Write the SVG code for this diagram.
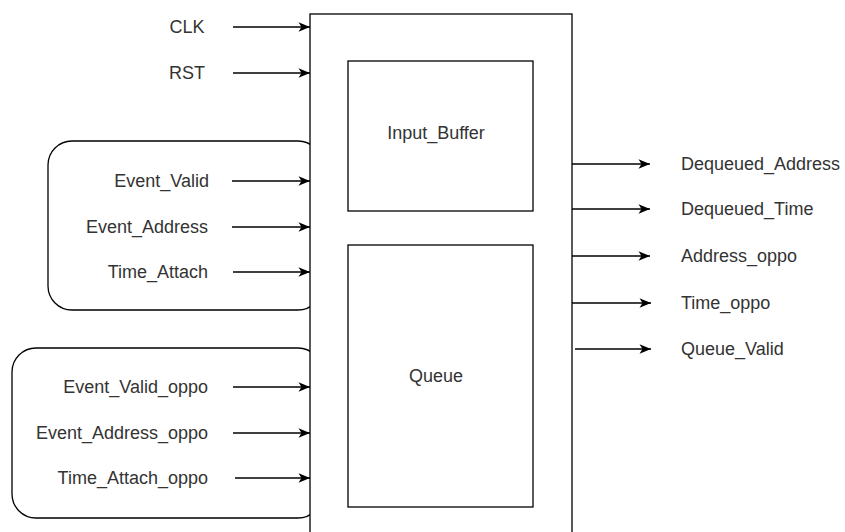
<svg xmlns="http://www.w3.org/2000/svg" width="845" height="532" viewBox="0 0 845 532">
<style>
.box{fill:#fff;stroke:#000;stroke-width:1.3}
.conn{stroke:#000;stroke-width:1.4;fill:none;marker-end:url(#arr)}
.lbl{font-family:"Liberation Sans",Arial,sans-serif;font-size:18px;fill:#333}
.r{text-anchor:end}
.m{text-anchor:middle}
</style>
<defs>
<marker id="arr" markerUnits="userSpaceOnUse" markerWidth="14" markerHeight="12" refX="12" refY="6" orient="auto">
<path d="M0.5,1.3 L12,6 L0.5,10.7 L3.5,6 Z" fill="#000"/>
</marker>
</defs>
<rect width="845" height="532" fill="#fff"/>
<g id="group1"><rect class="box" x="48" y="141" width="274" height="169" rx="24" ry="24"/></g>
<g id="group2"><rect class="box" x="12" y="348" width="310" height="170" rx="24" ry="24"/></g>
<g id="module"><rect class="box" x="310" y="14" width="262" height="540"/></g>
<g id="input_buffer"><rect class="box" x="348" y="61" width="185" height="150"/><text class="lbl m" x="436" y="139">Input_Buffer</text></g>
<g id="queue"><rect class="box" x="348" y="245" width="185" height="262"/><text class="lbl m" x="436" y="382">Queue</text></g>
<g id="connectors">
<line class="conn" x1="233" y1="27" x2="310" y2="27"/>
<line class="conn" x1="233" y1="73" x2="310" y2="73"/>
<line class="conn" x1="232" y1="181" x2="310" y2="181"/>
<line class="conn" x1="232" y1="227" x2="310" y2="227"/>
<line class="conn" x1="233" y1="272" x2="310" y2="272"/>
<line class="conn" x1="233" y1="387" x2="310" y2="387"/>
<line class="conn" x1="233" y1="433" x2="310" y2="433"/>
<line class="conn" x1="235" y1="478" x2="310" y2="478"/>
<line class="conn" x1="572" y1="164" x2="650" y2="164"/>
<line class="conn" x1="572" y1="209" x2="650" y2="209"/>
<line class="conn" x1="572" y1="256" x2="650" y2="256"/>
<line class="conn" x1="572" y1="303" x2="651" y2="303"/>
<line class="conn" x1="575" y1="349" x2="651" y2="349"/>
</g>
<g id="labels_in">
<text class="lbl m" x="187" y="33">CLK</text>
<text class="lbl m" x="187" y="79">RST</text>
<text class="lbl r" x="209" y="187">Event_Valid</text>
<text class="lbl r" x="208" y="233">Event_Address</text>
<text class="lbl r" x="208" y="278">Time_Attach</text>
<text class="lbl r" x="208" y="393">Event_Valid_oppo</text>
<text class="lbl r" x="208" y="439">Event_Address_oppo</text>
<text class="lbl r" x="208" y="484">Time_Attach_oppo</text>
</g>
<g id="labels_out">
<text class="lbl" x="681" y="170">Dequeued_Address</text>
<text class="lbl" x="681" y="215">Dequeued_Time</text>
<text class="lbl" x="681" y="262">Address_oppo</text>
<text class="lbl" x="681" y="309">Time_oppo</text>
<text class="lbl" x="681" y="355">Queue_Valid</text>
</g>
</svg>
